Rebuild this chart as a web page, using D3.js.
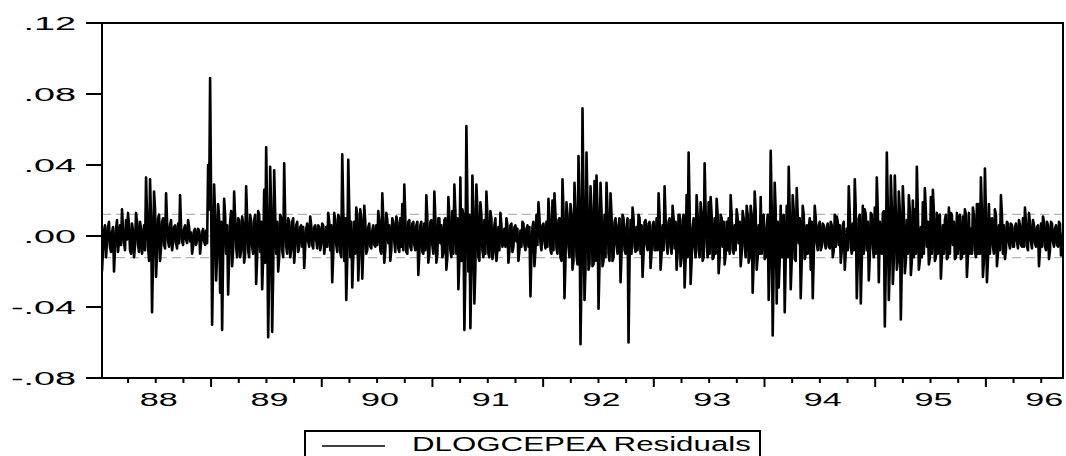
<!DOCTYPE html>
<html>
<head>
<meta charset="utf-8">
<script src="https://cdn.jsdelivr.net/npm/d3@7"></script>
<style>
  html, body { margin: 0; padding: 0; background: #fff; }
  svg { display: block; }
  text { font-family: Arial, "Liberation Sans", sans-serif; fill: #000; }
</style>
</head>
<body>
<div id="chart"></div>
<script>
// Daily residuals, in units of 0.001 left to right
const residualsMilli = [
  -20,-8,3,6,-12,-4,5,8,-6,-9,2,5,-20,-7,4,9,-9,-3,6,-5,15,4,-4,-8,9,-2,13,6,-8,-10,7,3,-12,-5,13,8,-5,-9,8,4,
  -10,-4,6,-8,33,12,-6,-14,32,10,-43,-12,25,15,-23,-9,10,12,-14,-6,8,10,-5,-7,24,8,-3,-6,6,9,-8,-4,5,6,-4,-7,7,-4,23,5,
  -3,-5,4,6,-2,-4,9,5,-3,2,-10,-6,3,4,-5,-2,4,3,-10,-4,2,4,-3,-5,3,-4,40,15,89,20,-50,-15,29,12,-25,-10,18,10,-32,8,
  -53,-10,21,12,-10,6,-33,-12,8,14,-17,-8,25,10,-6,-12,10,9,-12,-8,11,7,-15,-10,28,10,-8,-12,12,8,-6,-10,9,12,-27,-12,14,12,-9,8,
  -30,-12,26,-15,50,12,-57,-18,39,15,-54,-20,37,12,-10,8,-20,-12,12,10,-8,-12,41,10,-6,-10,10,8,-12,-8,8,10,-15,-6,6,8,-9,-6,5,6,
  -6,5,-18,-6,4,7,-3,-6,11,6,-5,-7,5,6,-2,-7,6,5,-8,-4,7,6,-10,-5,5,-6,13,8,-8,6,-26,-10,13,9,-5,-9,12,10,-9,-12,
  46,15,-14,10,-36,-14,43,15,-12,8,-29,-12,8,-10,16,12,-25,-10,15,10,-24,-8,17,8,-10,-8,5,7,-6,-7,3,6,-5,-6,6,-5,14,8,-8,-10,
  24,10,-15,-8,13,9,-4,6,-14,-8,10,8,-3,-9,11,8,-7,-9,10,-6,18,-8,29,10,-9,-10,8,9,-6,-8,7,8,-5,-8,6,8,-22,-10,6,8,
  -9,-10,7,-8,23,10,-15,-10,8,9,-5,-10,25,10,-15,-10,10,10,-4,6,-12,-10,9,10,-19,-12,22,12,-8,-12,14,-10,29,14,-10,10,-30,-14,33,-14,
  15,12,-53,-20,62,20,-20,12,-52,-20,34,15,-38,-18,29,15,-12,-14,19,12,-8,-12,9,-10,25,12,-10,-12,14,10,-13,-10,6,10,-14,-8,5,-8,13,6,
  -6,-4,4,-6,10,6,-15,-8,6,7,-9,-6,5,6,-3,4,-14,-8,3,-6,8,7,-5,-8,4,6,-6,5,-34,-10,5,8,-17,-8,12,-5,19,10,-4,-8,
  6,7,-3,-7,8,-6,21,10,-8,-10,20,-8,24,12,-7,-10,9,10,-12,-14,32,14,-35,-14,19,12,-6,-12,18,12,-19,-14,30,14,-11,-16,45,16,-61,-20,
  72,20,-36,-18,47,18,-19,-16,28,15,-17,-16,31,-14,34,15,-41,-16,30,14,-17,-14,12,-12,30,14,-10,-14,24,12,-14,-12,8,10,-5,-10,6,10,-26,-10,
  12,10,-8,-10,5,10,-60,-14,9,-10,16,10,-6,-9,5,-8,12,10,-10,6,-23,-10,8,9,-5,-8,7,8,-18,-9,6,8,-8,-8,10,-8,24,12,-19,-10,
  6,-8,28,10,-4,-10,8,10,-6,-10,17,10,-7,8,-19,-10,12,12,-17,-12,9,12,-29,-14,23,-12,47,16,-27,-14,5,10,-6,-12,23,12,-8,-12,19,12,
  -14,-12,41,14,-5,-12,19,-10,22,12,-13,-12,10,-10,21,12,-21,-12,12,10,-6,8,-16,-10,8,-8,10,-10,23,12,-8,-10,6,-8,15,10,-4,8,-17,-10,
  14,10,-6,-12,17,12,-15,-12,17,12,-32,-14,25,14,-19,-12,6,-10,22,-10,10,12,-13,-12,5,12,-36,-14,48,16,-56,-16,30,14,-38,8,-29,-14,17,-12,
  8,12,-43,-14,17,-12,39,14,-30,-14,23,14,-13,-14,27,12,-4,10,-35,-14,17,12,-13,-10,6,-10,4,10,-19,8,-35,-12,17,10,-4,-8,6,8,-8,-6,
  7,6,-4,-7,5,7,-6,-7,8,6,-12,-8,12,-6,11,8,-5,6,-15,-8,6,8,-19,-9,4,-8,28,12,-6,-10,7,-8,32,14,-35,-14,10,12,-38,-14,
  17,-10,15,12,-8,8,-25,-12,13,12,-6,-12,16,-10,33,14,-26,8,-4,-10,13,14,-51,-16,47,16,-36,-16,34,16,-27,-14,34,14,-19,-14,25,14,-47,-16,
  28,14,-21,-14,9,-10,23,14,-22,-14,20,-12,15,-10,39,14,-19,-14,5,-12,19,-10,27,14,-6,8,-16,-12,22,-10,26,14,-14,-12,13,-10,11,12,-24,-12,
  6,-10,9,12,-13,-12,16,-10,13,12,-5,8,-13,-12,13,-10,9,12,-13,-12,11,-10,15,12,-23,-12,13,-10,4,-10,16,12,-8,-12,18,-10,18,-10,33,14,
  -23,-14,38,14,-26,-14,18,-10,9,10,-6,-10,15,12,-17,-10,6,-8,23,12,-10,6,-13,-8,8,7,-4,-7,7,6,-6,-6,5,7,-3,-7,9,6,-5,-6,
  10,-6,16,8,-6,-8,13,7,-3,-7,9,6,-4,-6,5,6,-17,-8,7,-6,11,8,-6,-8,8,6,-13,-8,8,7,-3,-6,4,6,-5,-6,8,7,-11,-8,2
];

// sample covers early Jan 1988 to about Sep 1996
const firstObsYear = 1988.0145;
const lastObsYear = 1996.6968;

const years = [1988, 1989, 1990, 1991, 1992, 1993, 1994, 1995, 1996];
const yearLabels = ['88', '89', '90', '91', '92', '93', '94', '95', '96'];
const yTicks = [-0.08, -0.04, 0.00, 0.04, 0.08, 0.12];
const seBand = 0.0122;
const seriesName = 'DLOGCEPEA Residuals';

const width = 1066, height = 456;
const margin = { top: 23, right: 3, bottom: 78, left: 102 };

const svg = d3.select('#chart')
  .append('svg')
  .attr('width', width)
  .attr('height', height);

const x = d3.scaleLinear()
  .domain([firstObsYear, lastObsYear])
  .range([margin.left, width - margin.right]);

const y = d3.scaleLinear()
  .domain([-0.08, 0.12])
  .range([height - margin.bottom, margin.top]);

const obsYear = d3.scaleLinear()
  .domain([0, residualsMilli.length - 1])
  .range([firstObsYear, lastObsYear]);

const data = residualsMilli.map((v, i) => ({ t: obsYear(i), v: v / 1000 }));

const plotLeft = x.range()[0], plotRight = x.range()[1];
const plotTop = y.range()[1], plotBottom = y.range()[0];

svg.append('defs').append('clipPath')
  .attr('id', 'plot-clip')
  .append('rect')
  .attr('x', plotLeft).attr('y', plotTop)
  .attr('width', plotRight - plotLeft)
  .attr('height', plotBottom - plotTop);

// zero line and +/- S.E. band, under the series
svg.append('line')
  .attr('x1', plotLeft).attr('x2', plotRight)
  .attr('y1', y(0)).attr('y2', y(0))
  .attr('stroke', '#b4b4b4')
  .attr('stroke-width', 1);

svg.selectAll('.se')
  .data([seBand, -seBand])
  .join('line')
  .attr('class', 'se')
  .attr('x1', plotLeft).attr('x2', plotRight)
  .attr('y1', d => y(d)).attr('y2', d => y(d))
  .attr('stroke', '#b4b4b4')
  .attr('stroke-width', 1.2)
  .attr('stroke-dasharray', '9,5');

const line = d3.line()
  .x(d => x(d.t))
  .y(d => y(d.v));

svg.append('path')
  .datum(data)
  .attr('clip-path', 'url(#plot-clip)')
  .attr('fill', 'none')
  .attr('stroke', '#000')
  .attr('stroke-width', 2.6)
  .attr('stroke-linejoin', 'round')
  .attr('d', line);

// frame
svg.append('rect')
  .attr('x', plotLeft)
  .attr('y', plotTop)
  .attr('width', plotRight - plotLeft)
  .attr('height', plotBottom - plotTop)
  .attr('fill', 'none')
  .attr('stroke', '#000')
  .attr('stroke-width', 2);

// y axis: ticks point outwards, labels are stretched wide like the original
const fmt = v => d3.format('.2f')(v).replace('\u2212', '-').replace('0.', '.');
const yAxis = svg.append('g');
yAxis.selectAll('line')
  .data(yTicks)
  .join('line')
  .attr('x1', plotLeft - 16).attr('x2', plotLeft)
  .attr('y1', d => y(d)).attr('y2', d => y(d))
  .attr('stroke', '#000')
  .attr('stroke-width', 2);

yAxis.selectAll('text')
  .data(yTicks)
  .join('text')
  .attr('transform', d => `translate(${plotLeft - 26},${y(d) + 6.5}) scale(2.1,1)`)
  .attr('text-anchor', 'end')
  .attr('font-size', 18)
  .text(fmt);

// x axis: quarter ticks, longer ones at year starts
const quarterTicks = d3.range(1988.25, lastObsYear, 0.25);
svg.append('g').selectAll('line')
  .data(quarterTicks)
  .join('line')
  .attr('x1', d => x(d)).attr('x2', d => x(d))
  .attr('y1', plotBottom)
  .attr('y2', d => plotBottom + (Number.isInteger(d) ? 9 : 5))
  .attr('stroke', '#000')
  .attr('stroke-width', 2);

svg.append('g').selectAll('text')
  .data(years)
  .join('text')
  .attr('transform', d => `translate(${x(d + 0.5) + 3},${plotBottom + 28}) scale(1.9,1)`)
  .attr('text-anchor', 'middle')
  .attr('font-size', 18)
  .text((d, i) => yearLabels[i]);

// legend, cut by the bottom of the picture
const legend = svg.append('g');
legend.append('rect')
  .attr('x', 305)
  .attr('y', 431)
  .attr('width', 455)
  .attr('height', 40)
  .attr('fill', '#fff')
  .attr('stroke', '#000')
  .attr('stroke-width', 2);

legend.append('line')
  .attr('x1', 322).attr('x2', 385)
  .attr('y1', 446).attr('y2', 446)
  .attr('stroke', '#000')
  .attr('stroke-width', 1.5);

legend.append('text')
  .attr('transform', 'translate(412,451) scale(1.49,1)')
  .attr('font-size', 21)
  .text(seriesName);
</script>
</body>
</html>
